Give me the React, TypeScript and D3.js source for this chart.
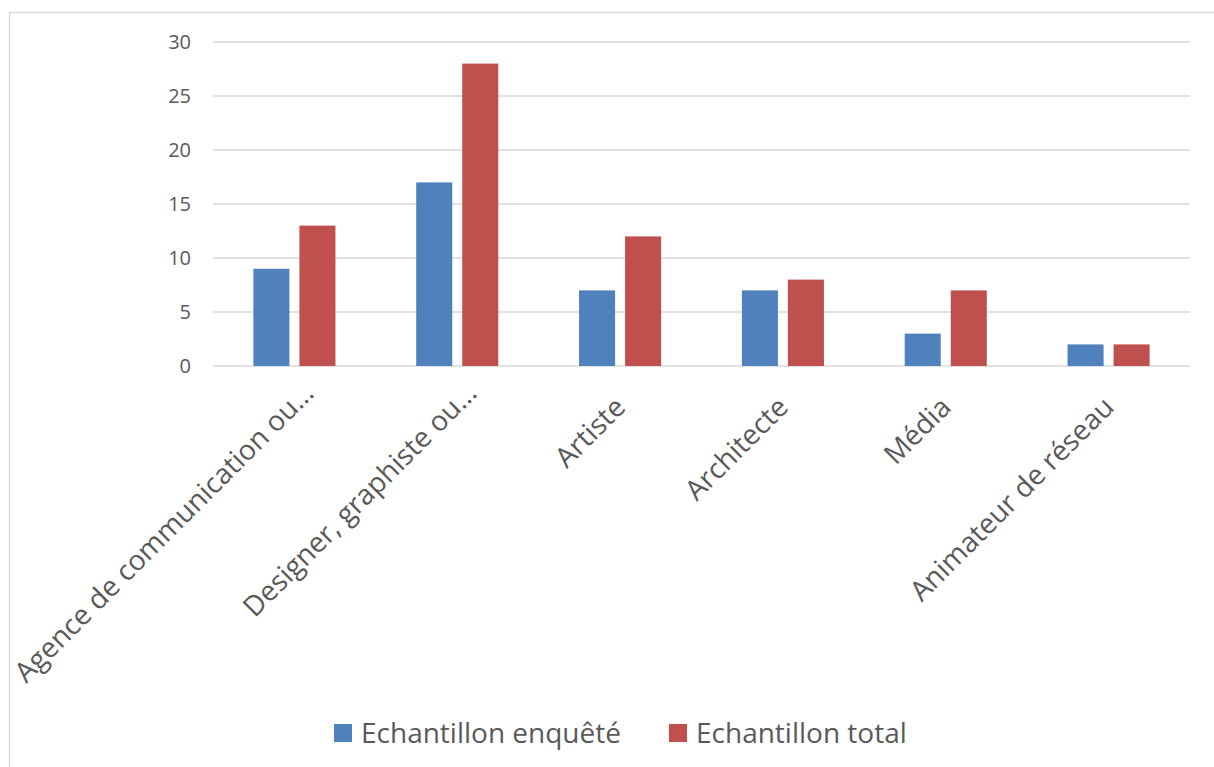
import React, { useEffect, useRef } from 'react';
import * as d3 from 'd3';

const categories = [
  'Agence de communication ou…',
  'Designer, graphiste ou…',
  'Artiste',
  'Architecte',
  'Média',
  'Animateur de réseau',
];
const seriesNames = ['Echantillon enquêté', 'Echantillon total'];
const enquete = [9, 17, 7, 7, 3, 2];
const total = [13, 28, 12, 8, 7, 2];
const yTicks = [0, 5, 10, 15, 20, 25, 30];
const colors = ['#4F81BD', '#C0504D'];

const W = 1214;
const H = 767;

const App: React.FC = () => {
  const svgRef = useRef<SVGSVGElement | null>(null);

  useEffect(() => {
    const svg = d3.select(svgRef.current);
    svg.selectAll('*').remove();

    const margin = { top: 42, right: 24, bottom: 401, left: 213 };
    const width = W - margin.left - margin.right;
    const height = H - margin.top - margin.bottom;
    const font = "'Open Sans', 'Noto Sans', sans-serif";
    const textColor = '#595959';

    // chart border
    svg
      .append('rect')
      .attr('x', 9.5)
      .attr('y', 12.5)
      .attr('width', W)
      .attr('height', H)
      .attr('fill', '#fff')
      .attr('stroke', '#D9D9D9')
      .attr('stroke-width', 1.5);

    const g = svg.append('g').attr('transform', `translate(${margin.left},${margin.top})`);

    const x0 = d3.scaleBand<string>().domain(categories).range([0, width]).padding(0);
    const x1 = d3
      .scaleBand<string>()
      .domain(seriesNames)
      .range([0, x0.bandwidth() * 0.504])
      .paddingInner(0.217)
      .paddingOuter(0);
    const groupOffset = (x0.bandwidth() - x0.bandwidth() * 0.504) / 2;

    const y = d3.scaleLinear().domain([0, 30]).range([height, 0]);

    // gridlines
    g.append('g')
      .selectAll('line')
      .data(yTicks)
      .join('line')
      .attr('x1', 0)
      .attr('x2', width)
      .attr('y1', d => y(d))
      .attr('y2', d => y(d))
      .attr('stroke', '#D9D9D9')
      .attr('stroke-width', 1.5);

    // y labels
    g.append('g')
      .selectAll('text')
      .data(yTicks)
      .join('text')
      .attr('x', -22)
      .attr('y', d => y(d))
      .attr('dy', '0.35em')
      .attr('text-anchor', 'end')
      .attr('font-family', font)
      .attr('font-size', 20)
      .attr('fill', textColor)
      .text(d => d);

    const rows = categories.map((c, i) => ({ cat: c, values: [enquete[i], total[i]] }));

    const groups = g
      .append('g')
      .selectAll('g')
      .data(rows)
      .join('g')
      .attr('transform', d => `translate(${(x0(d.cat) ?? 0) + groupOffset},0)`);

    groups
      .selectAll('rect')
      .data(d => d.values.map((v, k) => ({ name: seriesNames[k], v, k })))
      .join('rect')
      .attr('x', d => x1(d.name)!)
      .attr('width', x1.bandwidth())
      .attr('y', d => y(d.v))
      .attr('height', d => y(0) - y(d.v))
      .attr('fill', d => colors[d.k]);

    // rotated category labels
    g.append('g')
      .selectAll('text')
      .data(categories)
      .join('text')
      .attr('transform', d => `translate(${(x0(d) ?? 0) + x0.bandwidth() / 2},${height + 36}) rotate(-45)`)
      .attr('x', d => (d.endsWith('…') ? 20 : 0))
      .attr('dy', '0.35em')
      .attr('text-anchor', 'end')
      .attr('font-family', font)
      .attr('font-size', 28)
      .attr('fill', textColor)
      .text(d => d);

    // legend
    const legendX = [334, 669];
    const legend = svg
      .append('g')
      .selectAll('g')
      .data(seriesNames)
      .join('g')
      .attr('transform', (d, i) => `translate(${legendX[i]},724)`);
    legend
      .append('rect')
      .attr('width', 18)
      .attr('height', 18)
      .attr('fill', (d, i) => colors[i]);
    legend
      .append('text')
      .attr('x', 27)
      .attr('y', 19)
      .attr('font-family', font)
      .attr('font-size', 28)
      .attr('fill', textColor)
      .text(d => d);
  }, []);

  return (
    <svg
      ref={svgRef}
      width={W}
      height={H}
      style={{ position: 'absolute', left: 0, top: 0, background: '#fff' }}
    ></svg>
  );
};

export default App;
